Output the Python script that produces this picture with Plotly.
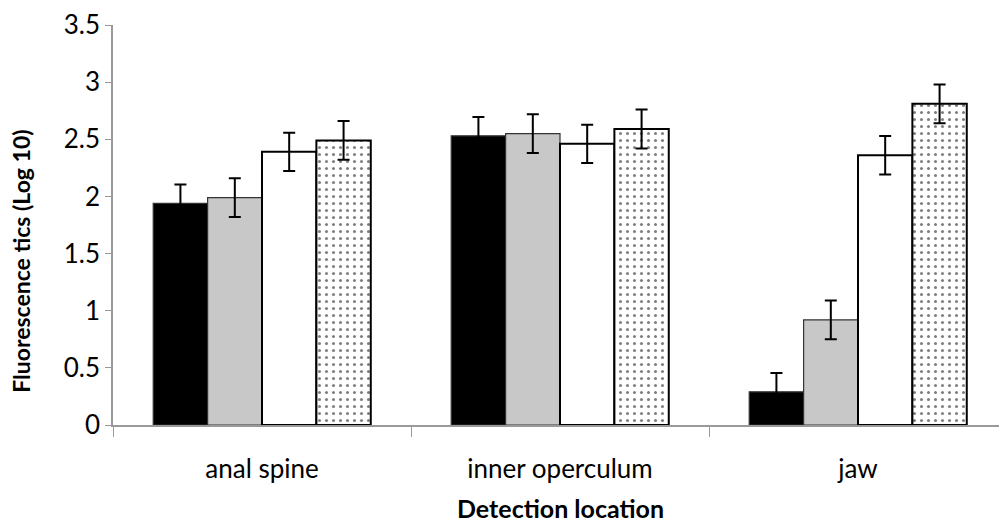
import plotly.graph_objects as go

categories = ["anal spine", "inner operculum", "jaw"]
series_black = [1.94, 2.53, 0.29]
series_gray = [1.99, 2.55, 0.92]
series_white = [2.39, 2.46, 2.36]
series_dotted = [2.49, 2.59, 2.81]
err_black = [0.165, 0.165, 0.165]
err_gray = [0.17, 0.17, 0.17]
err_white = [0.168, 0.168, 0.168]
err_dotted = [0.17, 0.17, 0.17]

font_family = "Lato, 'Open Sans', sans-serif"

def err(vals):
    return dict(type="data", array=vals, visible=True, color="black", thickness=2, width=6)

fig = go.Figure()
fig.add_trace(go.Bar(x=categories, y=series_black, name="black",
                     marker=dict(color="black", line=dict(color="#333333", width=1.2)),
                     error_y=err(err_black)))
fig.add_trace(go.Bar(x=categories, y=series_gray, name="gray",
                     marker=dict(color="#c8c8c8", line=dict(color="#333333", width=1.2)),
                     error_y=err(err_gray)))
fig.add_trace(go.Bar(x=categories, y=series_white, name="white",
                     marker=dict(color="white", line=dict(color="black", width=2)),
                     error_y=err(err_white)))
fig.add_trace(go.Bar(x=categories, y=series_dotted, name="dotted",
                     marker=dict(color="white", line=dict(color="black", width=2),
                                 pattern=dict(shape=".", fgcolor="black", bgcolor="white",
                                              size=7, solidity=0.15)),
                     error_y=err(err_dotted)))

fig.update_layout(
    width=999, height=515,
    margin=dict(l=105, r=0, t=8, b=98),
    paper_bgcolor="white", plot_bgcolor="white",
    barmode="group", bargap=0.27, bargroupgap=0,
    showlegend=False,
    font=dict(family=font_family, color="black", size=26),
    xaxis=dict(showline=True, linecolor="#999999", linewidth=1.5,
               ticks="outside", tickson="boundaries", ticklen=10, tickcolor="#999999",
               tickfont=dict(size=26), ticklabelstandoff=20, showgrid=False, zeroline=False),
    yaxis=dict(range=[0, 3.5], dtick=0.5, showline=True, linecolor="#999999", linewidth=1.5,
               ticks="outside", ticklen=6, tickcolor="#999999", ticklabeloverflow="allow",
               tickfont=dict(size=26), showgrid=False, zeroline=False),
    annotations=[
        dict(text="<b>Detection location</b>", xref="paper", yref="paper",
             x=0.5, y=-0.208, xanchor="center", yanchor="middle", showarrow=False,
             font=dict(size=25)),
        dict(text="<b>Fluorescence tics (Log 10)</b>", xref="paper", yref="paper",
             x=(13 - 105) / 894, y=0.408, xanchor="center", yanchor="middle",
             textangle=-90, showarrow=False, font=dict(size=23)),
    ],
)

fig.write_html("out.html")
